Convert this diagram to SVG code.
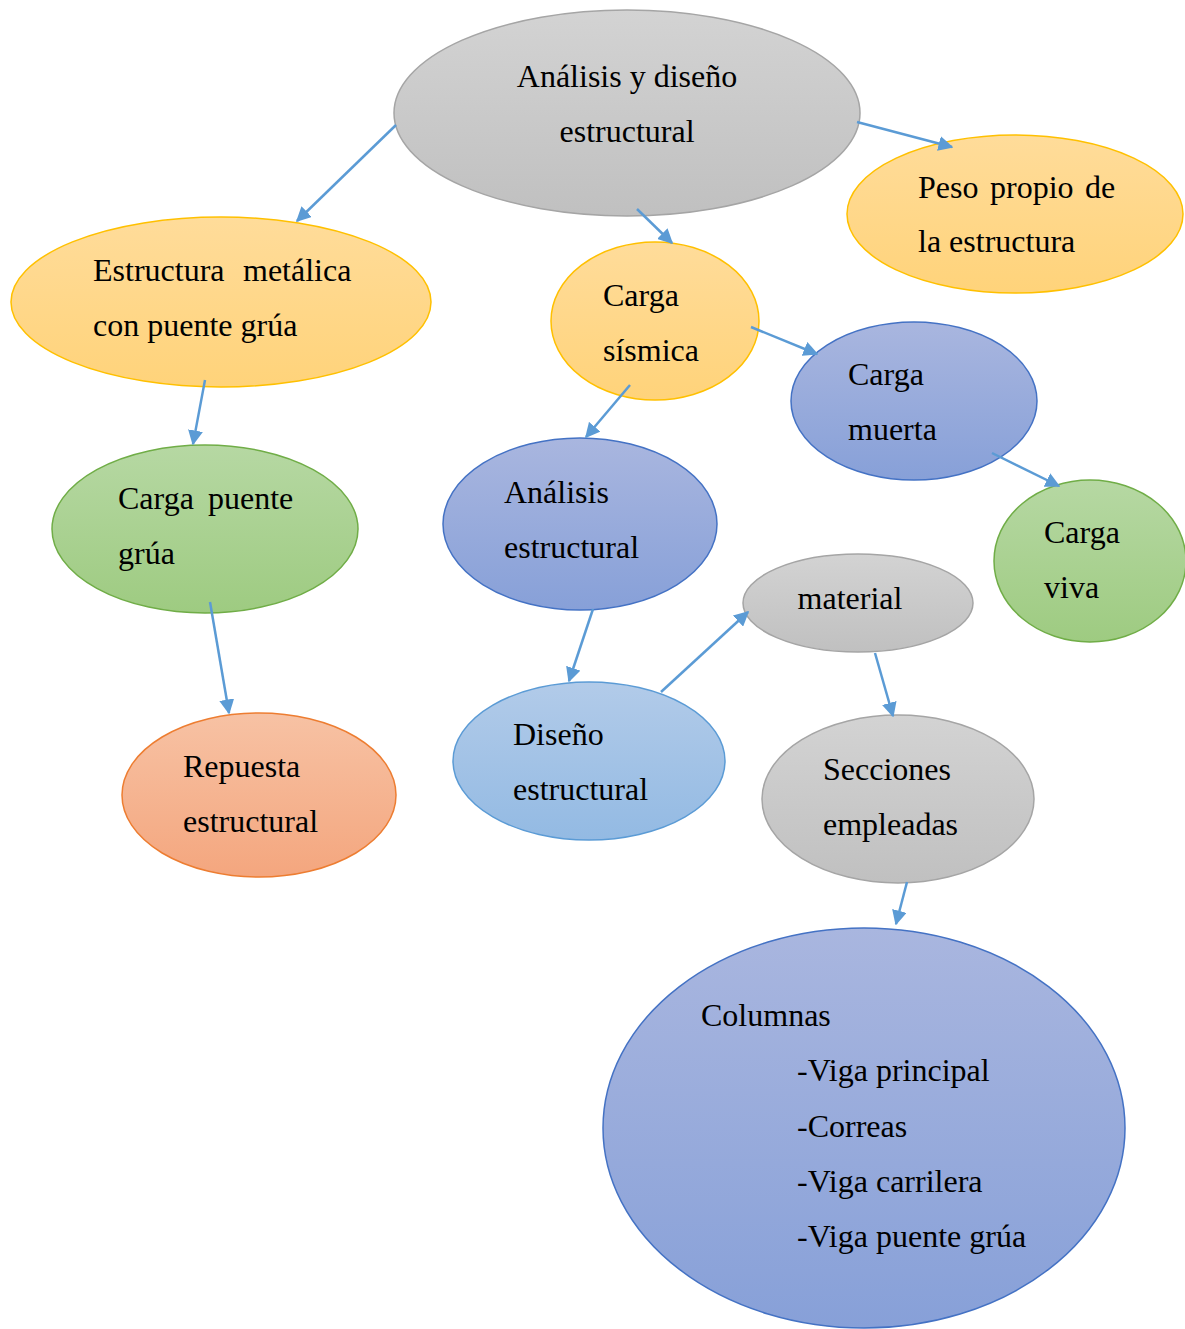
<svg xmlns="http://www.w3.org/2000/svg" width="1185" height="1329" viewBox="0 0 1185 1329">
<defs>
<linearGradient id="gGray" x1="0" y1="0" x2="0" y2="1"><stop offset="0" stop-color="#d3d3d3"/><stop offset="1" stop-color="#c0c0c0"/></linearGradient>
<linearGradient id="gOrange" x1="0" y1="0" x2="0" y2="1"><stop offset="0" stop-color="#ffdc9a"/><stop offset="1" stop-color="#ffd37a"/></linearGradient>
<linearGradient id="gBlue" x1="0" y1="0" x2="0" y2="1"><stop offset="0" stop-color="#a9b6df"/><stop offset="1" stop-color="#87a0d8"/></linearGradient>
<linearGradient id="gGreen" x1="0" y1="0" x2="0" y2="1"><stop offset="0" stop-color="#b6d8a3"/><stop offset="1" stop-color="#9ecb81"/></linearGradient>
<linearGradient id="gLight" x1="0" y1="0" x2="0" y2="1"><stop offset="0" stop-color="#b2cbe9"/><stop offset="1" stop-color="#93bae3"/></linearGradient>
<linearGradient id="gRed" x1="0" y1="0" x2="0" y2="1"><stop offset="0" stop-color="#f7c2a4"/><stop offset="1" stop-color="#f4a67e"/></linearGradient>
<marker id="arr" viewBox="0 0 10 10" refX="9" refY="5" markerWidth="6" markerHeight="6" markerUnits="strokeWidth" orient="auto"><path d="M0,0 L10,5 L0,10 z" fill="#5b9bd5"/></marker>
</defs>
<style>
text{font-family:"Liberation Serif","Times New Roman",serif;font-size:32px;fill:#000}
.gray{fill:url(#gGray);stroke:#a5a5a5;stroke-width:1.5}
.orange{fill:url(#gOrange);stroke:#ffc000;stroke-width:1.5}
.blue{fill:url(#gBlue);stroke:#4472c4;stroke-width:1.5}
.green{fill:url(#gGreen);stroke:#70ad47;stroke-width:1.5}
.light{fill:url(#gLight);stroke:#5b9bd5;stroke-width:1.5}
.red{fill:url(#gRed);stroke:#ed7d31;stroke-width:1.5}
.c{stroke:#5b9bd5;stroke-width:2.5;fill:none;marker-end:url(#arr)}
</style>
<rect width="1185" height="1329" fill="#fff"/>
<g id="n-analisis-diseno"><ellipse class="gray" cx="627" cy="113" rx="233" ry="103"/><text x="627" y="87" text-anchor="middle">Análisis y diseño</text><text x="627" y="142" text-anchor="middle">estructural</text></g>
<g id="n-peso-propio"><ellipse class="orange" cx="1015" cy="214" rx="168" ry="79"/><text x="918" y="198">Peso</text><text x="990" y="198">propio</text><text x="1085" y="198">de</text><text x="918" y="252">la estructura</text></g>
<g id="n-estructura-metalica"><ellipse class="orange" cx="221" cy="302" rx="210" ry="85"/><text x="93" y="281">Estructura</text><text x="243" y="281">metálica</text><text x="93" y="336">con puente grúa</text></g>
<g id="n-carga-sismica"><ellipse class="orange" cx="655" cy="321" rx="104" ry="79"/><text x="603" y="306">Carga</text><text x="603" y="361">sísmica</text></g>
<g id="n-carga-muerta"><ellipse class="blue" cx="914" cy="401" rx="123" ry="79"/><text x="848" y="385">Carga</text><text x="848" y="440">muerta</text></g>
<g id="n-carga-puente"><ellipse class="green" cx="205" cy="529" rx="153" ry="84"/><text x="118" y="509">Carga</text><text x="208" y="509">puente</text><text x="118" y="564">grúa</text></g>
<g id="n-analisis-estructural"><ellipse class="blue" cx="580" cy="524" rx="137" ry="86"/><text x="504" y="503">Análisis</text><text x="504" y="558">estructural</text></g>
<g id="n-carga-viva"><ellipse class="green" cx="1090" cy="561" rx="96" ry="81"/><text x="1044" y="543">Carga</text><text x="1044" y="598">viva</text></g>
<g id="n-material"><ellipse class="gray" cx="858" cy="603" rx="115" ry="49"/><text x="850" y="609" text-anchor="middle">material</text></g>
<g id="n-diseno-estructural"><ellipse class="light" cx="589" cy="761" rx="136" ry="79"/><text x="513" y="745">Diseño</text><text x="513" y="800">estructural</text></g>
<g id="n-repuesta"><ellipse class="red" cx="259" cy="795" rx="137" ry="82"/><text x="183" y="777">Repuesta</text><text x="183" y="832">estructural</text></g>
<g id="n-secciones"><ellipse class="gray" cx="898" cy="799" rx="136" ry="84"/><text x="823" y="780">Secciones</text><text x="823" y="835">empleadas</text></g>
<g id="n-columnas"><ellipse class="blue" cx="864" cy="1128" rx="261" ry="200"/><text x="701" y="1026">Columnas</text><text x="797" y="1081">-Viga principal</text><text x="797" y="1137">-Correas</text><text x="797" y="1192">-Viga carrilera</text><text x="797" y="1247">-Viga puente grúa</text></g>
<g id="connectors">
<line class="c" x1="396" y1="125" x2="297" y2="221"/>
<line class="c" x1="637" y1="209" x2="672" y2="243"/>
<line class="c" x1="857" y1="122" x2="952" y2="147"/>
<line class="c" x1="205" y1="380" x2="193" y2="444"/>
<line class="c" x1="751" y1="327" x2="817" y2="354"/>
<line class="c" x1="630" y1="385" x2="586" y2="437"/>
<line class="c" x1="992" y1="453" x2="1059" y2="486"/>
<line class="c" x1="593" y1="609" x2="569" y2="681"/>
<line class="c" x1="661" y1="692" x2="748" y2="612"/>
<line class="c" x1="210" y1="602" x2="229" y2="713"/>
<line class="c" x1="875" y1="653" x2="893" y2="716"/>
<line class="c" x1="907" y1="882" x2="896" y2="924"/>
</g>
</svg>
